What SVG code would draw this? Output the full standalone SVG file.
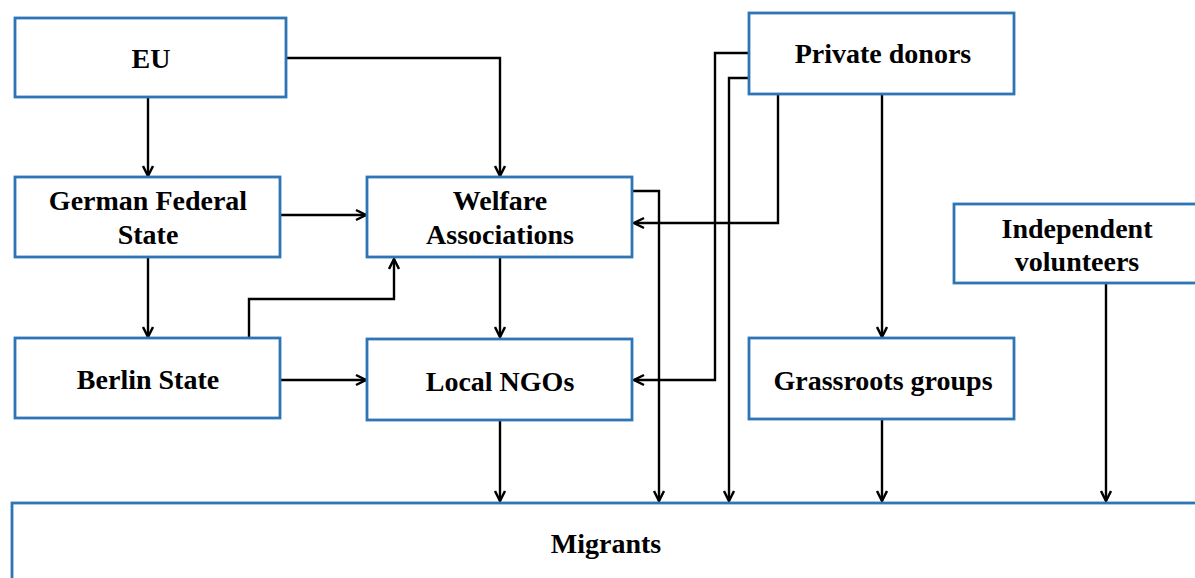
<svg xmlns="http://www.w3.org/2000/svg" width="1195" height="578" viewBox="0 0 1195 578">
<style>
.box{fill:#fff;stroke:#2E75B6;stroke-width:2.8}
.t{font-family:"Liberation Serif","Times New Roman",serif;font-weight:bold;font-size:28px;fill:#000;text-anchor:middle}
.c{fill:none;stroke:#000;stroke-width:2.4}
</style>
<defs>
<marker id="ah" markerUnits="userSpaceOnUse" markerWidth="14" markerHeight="14" refX="11" refY="6" orient="auto" viewBox="0 0 14 12">
<path d="M1,1 L11,6 L1,11" fill="none" stroke="#000" stroke-width="2.5"/>
</marker>
</defs>
<rect width="1195" height="578" fill="#fff"/>
<g id="connectors">
<path class="c" d="M148,97 V176" marker-end="url(#ah)"/>
<path class="c" d="M286,58 H500 V176" marker-end="url(#ah)"/>
<path class="c" d="M280,215 H366" marker-end="url(#ah)"/>
<path class="c" d="M148,257 V337" marker-end="url(#ah)"/>
<path class="c" d="M249,337 V299 H394 V259" marker-end="url(#ah)"/>
<path class="c" d="M280,380 H366" marker-end="url(#ah)"/>
<path class="c" d="M500,257 V337" marker-end="url(#ah)"/>
<path class="c" d="M632,191 H659 V501" marker-end="url(#ah)"/>
<path class="c" d="M749,53 H715 V380 H634" marker-end="url(#ah)"/>
<path class="c" d="M749,78 H729 V501" marker-end="url(#ah)"/>
<path class="c" d="M778,94 V223 H634" marker-end="url(#ah)"/>
<path class="c" d="M882,94 V337" marker-end="url(#ah)"/>
<path class="c" d="M500,420 V501" marker-end="url(#ah)"/>
<path class="c" d="M882,420 V501" marker-end="url(#ah)"/>
<path class="c" d="M1106,284 V501" marker-end="url(#ah)"/>
</g>
<g id="eu"><rect class="box" x="15" y="18" width="271" height="79"/><text class="t" x="151" y="68">EU</text></g>
<g id="german-federal-state"><rect class="box" x="15" y="177" width="265" height="80"/><text class="t" x="148" y="210">German Federal</text><text class="t" x="148" y="244">State</text></g>
<g id="berlin-state"><rect class="box" x="15" y="338" width="265" height="80"/><text class="t" x="148" y="389">Berlin State</text></g>
<g id="welfare-associations"><rect class="box" x="367" y="177" width="265" height="80"/><text class="t" x="500" y="210">Welfare</text><text class="t" x="500" y="244">Associations</text></g>
<g id="local-ngos"><rect class="box" x="367" y="339" width="265" height="81"/><text class="t" x="500" y="391">Local NGOs</text></g>
<g id="private-donors"><rect class="box" x="749" y="13" width="265" height="81"/><text class="t" x="883" y="63">Private donors</text></g>
<g id="grassroots-groups"><rect class="box" x="749" y="338" width="265" height="81"/><text class="t" x="883" y="390">Grassroots groups</text></g>
<g id="independent-volunteers"><rect class="box" x="954" y="204" width="250" height="79"/><text class="t" x="1077" y="238">Independent</text><text class="t" x="1077" y="271">volunteers</text></g>
<g id="migrants"><rect class="box" x="12" y="503" width="1200" height="100"/><text class="t" x="606" y="553">Migrants</text></g>
</svg>
